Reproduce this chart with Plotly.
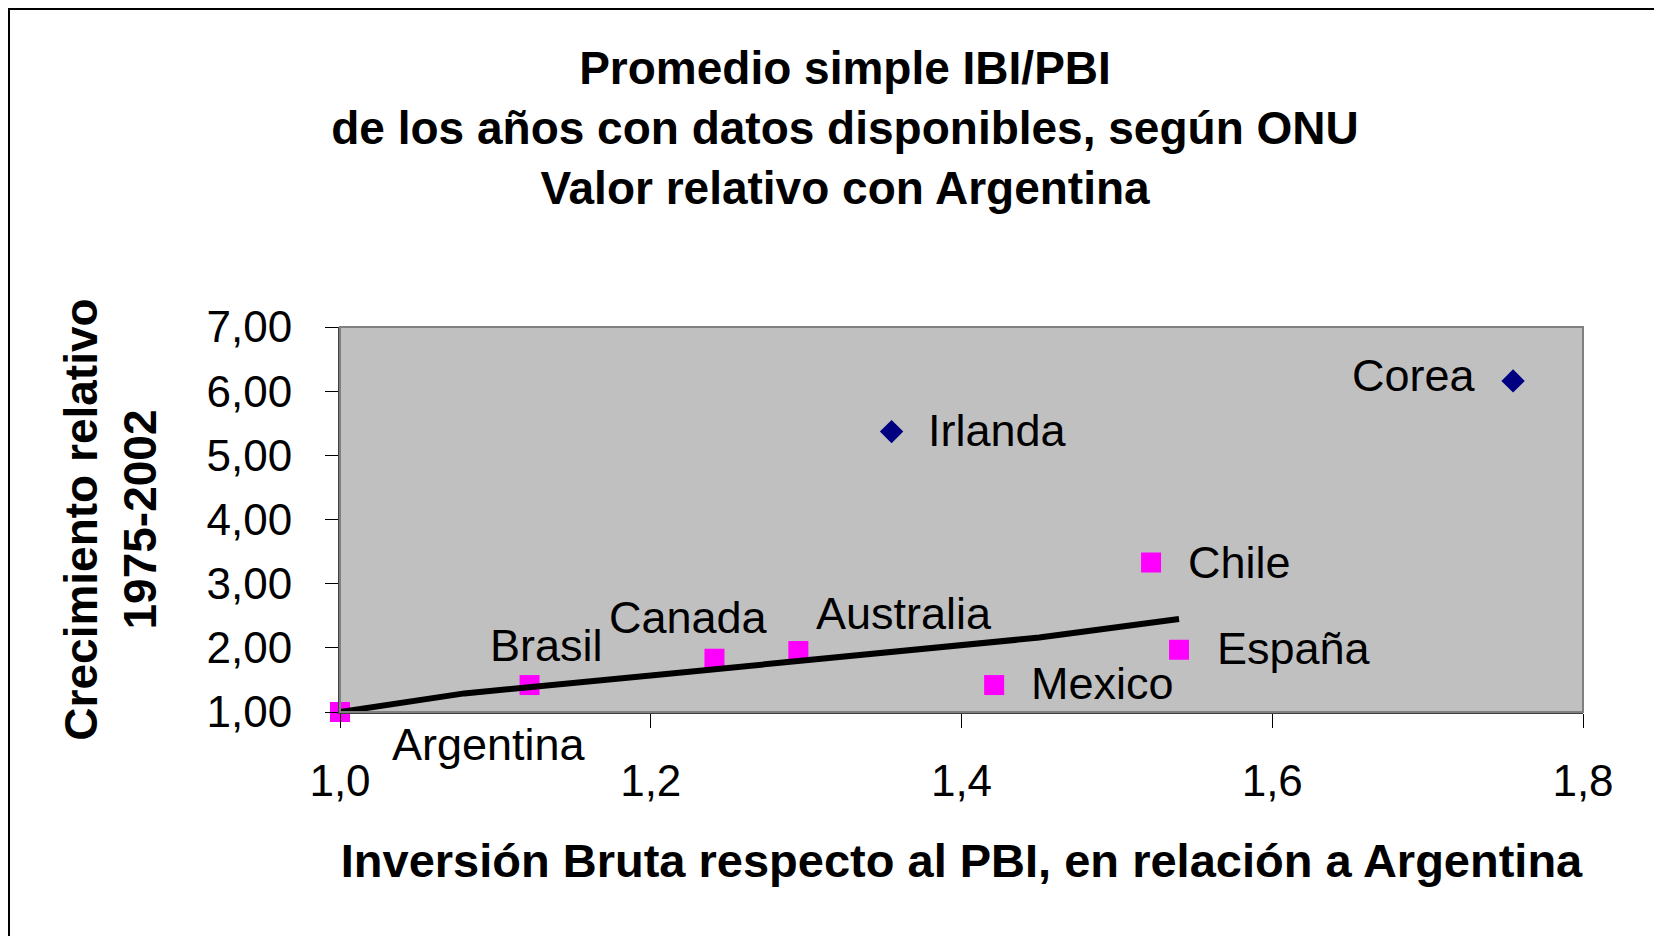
import plotly.graph_objects as go

# ---- data ----
pink_names = ["Argentina", "Brasil", "Canada", "Australia", "Mexico", "Chile", "España"]
pink_x = [1.000, 1.122, 1.241, 1.295, 1.421, 1.522, 1.540]
pink_y = [1.00, 1.42, 1.83, 1.95, 1.42, 3.33, 1.97]

navy_names = ["Irlanda", "Corea"]
navy_x = [1.355, 1.755]
navy_y = [5.37, 6.16]

trend_x = [1.00, 1.08, 1.20, 1.30, 1.45, 1.54]
trend_y = [1.00, 1.29, 1.57, 1.81, 2.16, 2.45]

x_ticks = [1.0, 1.2, 1.4, 1.6, 1.8]
y_ticks = [1, 2, 3, 4, 5, 6, 7]

title_lines = ["Promedio simple IBI/PBI",
               "de los años con datos disponibles, según ONU",
               "Valor relativo con Argentina"]
x_title = "Inversión Bruta respecto al PBI, en relación a Argentina"
y_title_lines = ["Crecimiento relativo", "1975-2002"]

# ---- label placement (styles) ----
label_style = {
    "Argentina": dict(xanchor="left", xshift=50, yshift=-32),
    "Brasil": dict(xanchor="center", xshift=17, yshift=40),
    "Canada": dict(xanchor="center", xshift=-26, yshift=41),
    "Australia": dict(xanchor="center", xshift=106, yshift=38),
    "Mexico": dict(xanchor="left", xshift=35, yshift=2),
    "Chile": dict(xanchor="left", xshift=35, yshift=0),
    "España": dict(xanchor="left", xshift=36, yshift=1),
    "Irlanda": dict(xanchor="left", xshift=34, yshift=1),
    "Corea": dict(xanchor="right", xshift=-35, yshift=5),
}

FONT = "Liberation Sans, Arial, sans-serif"
OFF = 8  # page body margin
W, H = 1662 - OFF, 936 - OFF
L, R, T, B = 340 - OFF, 1583 - OFF, 327 - OFF, 712 - OFF

fig = go.Figure()
fig.add_trace(go.Scatter(x=pink_x, y=pink_y, mode="markers", name="pink",
                         marker=dict(symbol="square", size=20, color="#FF00FF", line=dict(width=0)),
                         cliponaxis=False, showlegend=False))
fig.add_trace(go.Scatter(x=navy_x, y=navy_y, mode="markers", name="navy",
                         marker=dict(symbol="diamond", size=18, color="#000080", line=dict(width=0)),
                         cliponaxis=False, showlegend=False))
fig.add_trace(go.Scatter(x=trend_x, y=trend_y, mode="lines", name="trend",
                         line=dict(color="black", width=6), cliponaxis=False, showlegend=False))

annotations = []
for names, xs, ys in [(pink_names, pink_x, pink_y), (navy_names, navy_x, navy_y)]:
    for n, xv, yv in zip(names, xs, ys):
        st = label_style[n]
        annotations.append(dict(x=xv, y=yv, xref="x", yref="y", text=n, showarrow=False,
                                xanchor=st["xanchor"], yanchor="middle",
                                xshift=st["xshift"], yshift=st["yshift"],
                                font=dict(family=FONT, size=45, color="black")))

pw = R - L
ph = B - T
def px_to_paper_x(p):
    return (p - OFF - L) / pw
def px_to_paper_y(p):
    return (B - (p - OFF)) / ph

shapes = [
    # outer chart border (top & left visible)
    dict(type="rect", xref="paper", yref="paper",
         x0=px_to_paper_x(9), x1=px_to_paper_x(1662 + 20),
         y0=px_to_paper_y(936 + 20), y1=px_to_paper_y(9),
         line=dict(color="black", width=2), fillcolor="rgba(0,0,0,0)", layer="below"),
    # plot frame
    dict(type="rect", xref="paper", yref="paper", x0=0, x1=1, y0=0, y1=1,
         line=dict(color="#808080", width=2), fillcolor="rgba(0,0,0,0)", layer="above"),
]

fig.update_layout(
    width=W, height=H,
    margin=dict(l=L, r=W - R, t=T, b=H - B, pad=0),
    paper_bgcolor="white", plot_bgcolor="#C0C0C0",
    separators=",.",
    title=dict(text="<br>".join(title_lines), x=(845 - OFF) / W, xref="container", xanchor="center",
               y=1 - 76 / H, yref="container", yanchor="middle",
               font=dict(family=FONT, size=46, color="black", weight="bold")),
    xaxis=dict(range=[1.0, 1.8], tickvals=x_ticks, tickformat=".1f",
               showgrid=False, zeroline=False, showline=True, linecolor="#404040", linewidth=2,
               ticks="outside", ticklen=14, tickwidth=1, tickcolor="black",
               ticklabelstandoff=15,
               tickfont=dict(family=FONT, size=44, color="black"),
               title=dict(text=x_title, standoff=40,
                          font=dict(family=FONT, size=47, color="black", weight="bold"))),
    yaxis=dict(range=[1, 7], tickvals=y_ticks, tickformat=".2f",
               showgrid=False, zeroline=False, showline=True, linecolor="#404040", linewidth=2,
               ticks="outside", ticklen=13, tickwidth=1, tickcolor="black",
               ticklabelstandoff=24,
               tickfont=dict(family=FONT, size=44, color="black"),
               title=dict(text="<br>".join(y_title_lines), standoff=35,
                          font=dict(family=FONT, size=46, color="black", weight="bold"))),
    annotations=annotations,
    shapes=shapes,
)

fig.write_html("out.html")
